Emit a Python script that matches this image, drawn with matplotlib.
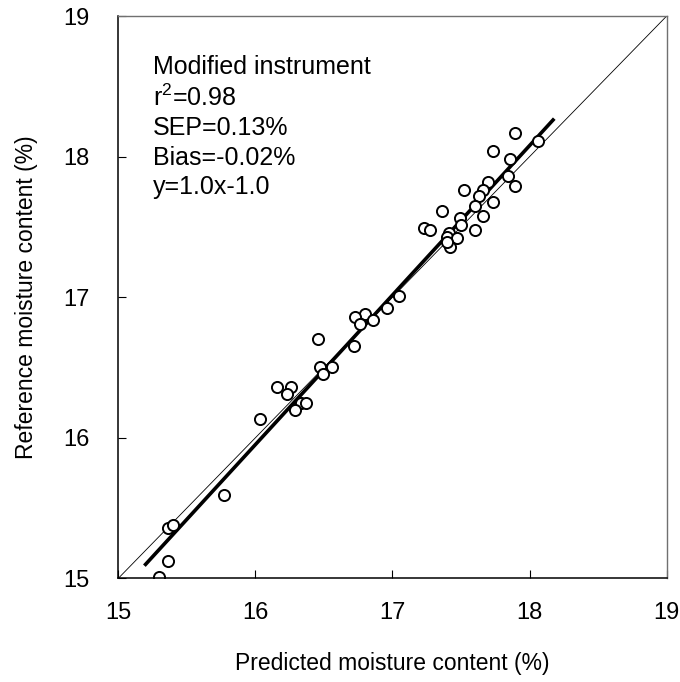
import matplotlib
matplotlib.use('Agg')
import matplotlib.pyplot as plt
import numpy as np

plt.rcParams['font.family'] = ['Liberation Sans', 'DejaVu Sans']

# predicted vs reference moisture content (%)
predicted = [17.89, 18.06, 17.73, 17.86, 17.84, 17.89, 17.70, 17.52, 17.66, 17.63,
             17.73, 17.60, 17.36, 17.66, 17.49, 17.50, 17.60, 17.23, 17.27, 17.41,
             17.40, 17.47, 17.42, 17.40, 17.05, 16.96, 16.80, 16.73, 16.86, 16.76,
             16.46, 16.72, 16.47, 16.56, 16.49, 16.16, 16.26, 16.23, 16.33, 16.37,
             16.29, 16.03, 15.77, 15.36, 15.40, 15.36, 15.30]
reference = [18.17, 18.11, 18.04, 17.98, 17.86, 17.79, 17.82, 17.76, 17.76, 17.72,
             17.68, 17.65, 17.61, 17.58, 17.56, 17.51, 17.48, 17.49, 17.48, 17.46,
             17.43, 17.42, 17.36, 17.39, 17.01, 16.92, 16.88, 16.86, 16.84, 16.81,
             16.70, 16.65, 16.50, 16.50, 16.45, 16.36, 16.36, 16.31, 16.25, 16.25,
             16.20, 16.13, 15.59, 15.36, 15.38, 15.12, 15.01]

# regression line end points and 1:1 line
fit_x = [15.19, 18.18]
fit_y = [15.09, 18.27]
one_to_one = [15, 19]

stats_lines = ['Modified instrument', r'r$^{\mathregular{2}}$=0.98', 'SEP=0.13%',
               'Bias=-0.02%', 'y=1.0x-1.0']
ticks = [15, 16, 17, 18, 19]

fig = plt.figure(figsize=(6.8, 6.82), dpi=100)
ax = fig.add_axes([0.174, 0.152, 0.8064, 0.8245])

ax.plot(one_to_one, one_to_one, color='black', lw=0.6)
ax.plot(fit_x, fit_y, color='black', lw=2.6, solid_capstyle='butt')
ax.plot(predicted, reference, 'o', ms=8, mfc='white', mec='black', mew=1.4)

ax.set_xlim(15, 19)
ax.set_ylim(15, 19)
ax.set_xticks(ticks)
ax.set_yticks(ticks)
ax.tick_params(direction='in', length=6, width=0.8, labelsize=17, pad=17,
               top=False, right=False)
ax.tick_params(axis='y', pad=21)
ax.set_xlabel('Predicted moisture content (%)', fontsize=16.5, labelpad=20)
ax.set_ylabel('Reference moisture content (%)', fontsize=16.5, labelpad=18)

for side in ['left', 'bottom']:
    ax.spines[side].set_linewidth(1.1)
for side in ['top', 'right']:
    ax.spines[side].set_color('#707070')
    ax.spines[side].set_linewidth(1.0)

ys = [0.910, 0.854, 0.801, 0.747, 0.696]
for txt, yy in zip(stats_lines, ys):
    ax.text(0.063, yy, txt, transform=ax.transAxes, fontsize=18, va='center', ha='left')

fig.savefig('out.png', dpi=100)
